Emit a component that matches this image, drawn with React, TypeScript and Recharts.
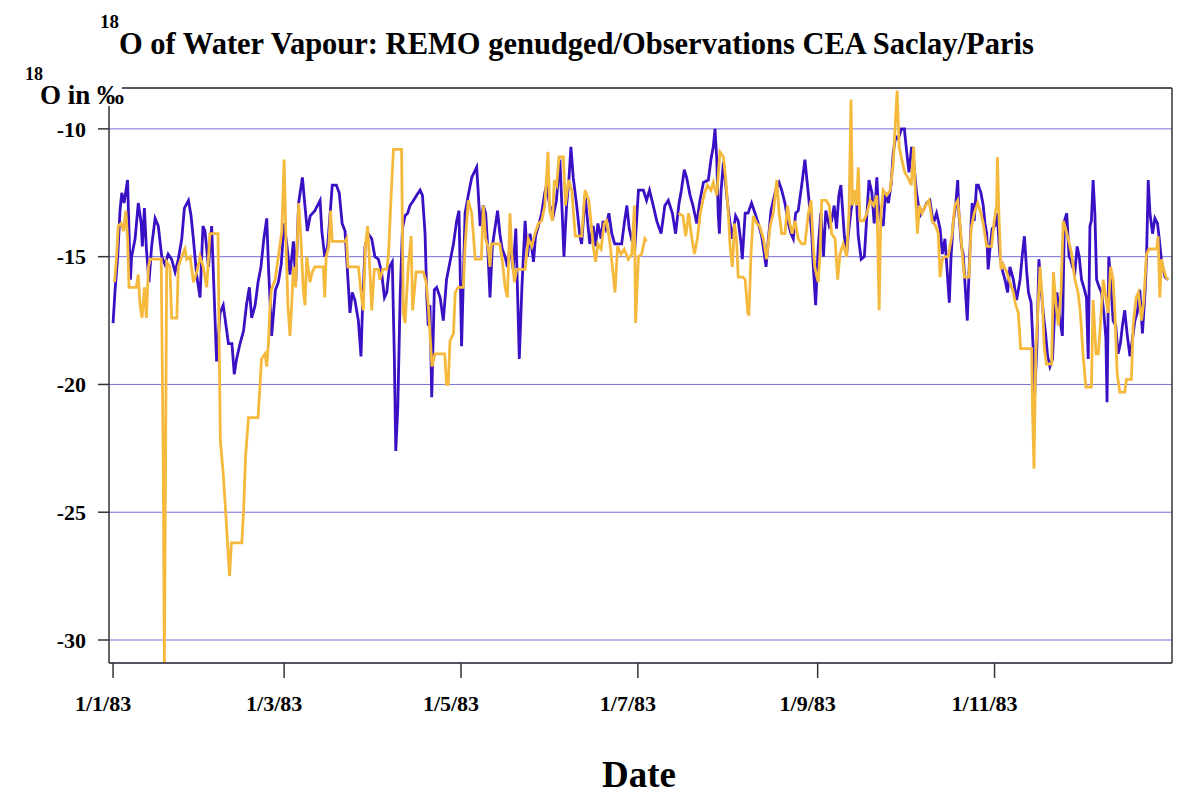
import { CartesianGrid, Line, LineChart, XAxis, YAxis } from "recharts";

// day of year (0 = 1 Jan 1983), delta 18O in permil
const REMO: [number, number][] = [
  [0, -17.6], [0.7, -16.3], [1.6, -15], [2.4, -13.2], [3, -12.5], [3.8, -12.9], [5, -12], [5.5, -14],
  [6, -15.9], [6.4, -15], [7.6, -14.3], [8.7, -12.9], [9.7, -13.7], [10.1, -14.6], [10.8, -13.1],
  [11.5, -14.7], [12.4, -16], [13.3, -14.6], [14.5, -13.5], [15.6, -13.8], [16.8, -15], [17.9, -15.3],
  [19, -14.9], [20.2, -15.1], [21.4, -15.6], [22.5, -15.1], [23.7, -14.3], [24.6, -13.1], [26, -12.8],
  [26.9, -13.4], [27.7, -14.3], [28.8, -15.7], [30, -16.6], [31, -13.8], [31.7, -14], [32.9, -15.4],
  [34, -13.8], [35, -16.9], [35.7, -19.1], [36.9, -17.2], [38, -16.9], [39.8, -18.4],
  [41, -18.4], [41.8, -19.6], [42.6, -19], [43.8, -18.4], [45, -17.9], [46, -16.9], [47, -16.2],
  [47.8, -17.4], [49, -16.9], [50, -16], [51, -15.4], [52, -14.3], [53, -13.5], [53.6, -15.4],
  [54.7, -18.1], [56, -16.3], [57, -16], [58, -15.3], [59, -13.7], [60, -14.6], [61, -15.7],
  [62.2, -14.4], [63, -16], [64, -12.9], [65.3, -11.9], [66, -12.8], [67, -14], [68, -13.4],
  [69.6, -13.2], [71.4, -12.8], [72, -14], [73, -15], [74, -14.6], [75.6, -12.2], [77, -12.2],
  [78, -12.5], [79, -13.7], [80, -14],
  [81.7, -17.2], [82.5, -16.4], [83.4, -16.7], [84.6, -17.5], [85.5, -18.9], [86, -17.1], [86.9, -14.6],
  [88, -14.1], [89.2, -14.3], [90.3, -15], [91.5, -15.1], [92.6, -15.6], [93.6, -16.6], [94.4, -16.4],
  [95.3, -15.4], [96.3, -15.2], [97, -18.9], [97.5, -22.6], [98.2, -20.9], [99, -16.6], [99.8, -13.9],
  [100.7, -13.4], [101.6, -13.3], [102.4, -13], [103.6, -12.8], [104.7, -12.6], [105.9, -12.4],
  [106.7, -12.6], [107.6, -14.1], [108.2, -16.6], [108.7, -17.7], [109.3, -16.9], [109.9, -20.5],
  [110.8, -16.3], [111.6, -16.2], [112.8, -16.6], [113.9, -17.5], [115, -15.9], [116.2, -15.2],
  [117.4, -14.5], [118.5, -13.6], [119.3, -13.2], [120.2, -18.5], [121.4, -13.3], [122.5, -12.6],
  [123.7, -11.9], [125.4, -11.5], [126, -12.6], [126.6, -13.8], [127.7, -13], [128.5, -13.3],
  [129.2, -14.6], [130, -16.6], [130.8, -14.6], [131.7, -13.9], [132.6, -13.2], [133.4, -14.1],
  [134.2, -14.7], [135.2, -15], [136, -15.4], [136.9, -14.6], [138, -15.5], [138.9, -13.9],
  [139.5, -16.4], [140.1, -19], [141, -16.2], [142.1, -13.6], [142.9, -15], [143.8, -14.1],
  [145, -15.2], [145.7, -14.2], [146.7, -13.8], [147.8, -13.3], [148.9, -12.5], [149.5, -12.2],
  [150.6, -13], [151.8, -13.4], [152.9, -12.8], [154.1, -11.2], [154.9, -13.3], [155.5, -15],
  [156.4, -13], [157.2, -12], [157.9, -10.7], [158.7, -11.9], [159.9, -13], [161, -14.2],
  [161.6, -14.5], [162.8, -12.6],
  [164.4, -14.5], [165.6, -13.8], [166.4, -14.6], [167.2, -13.7], [168.3, -14.3], [169, -13.6],
  [169.9, -13.9], [171, -13.3], [172, -14.1], [173, -14.5], [175.4, -14.5], [176.3, -13.7],
  [177.2, -13], [178, -13.9], [179, -14.4], [180, -14.6], [181.2, -12.4], [182.9, -12.4], [184, -12.8],
  [185, -12.4], [186.3, -13], [187.5, -13.6], [189, -14.1], [190.3, -13], [191.5, -12.8],
  [192.9, -13.3], [194, -14.1], [195.2, -12.9], [196, -12.4], [197, -11.6], [197.8, -11.9],
  [199, -12.6], [200, -13], [201.3, -13.7], [202.4, -12.8], [203.6, -12.1],
  [205.3, -12], [206.2, -11.2], [207, -10.7], [207.6, -10], [208.2, -11.2], [208.7, -13.3],
  [209.1, -14.1], [209.7, -12.4], [210.5, -11.3], [211.3, -12.2], [212, -13], [212.8, -13.7],
  [213.6, -14.3], [214.7, -13.4], [215.6, -13.6], [216.6, -14.5], [217, -15.1], [218, -13.3],
  [219, -13.3], [220.2, -12.9], [221.4, -13.3], [222.5, -13.7], [223.7, -14.2], [224.6, -14.9],
  [225.2, -15.4], [226, -14.3], [226.9, -13.2], [227.7, -12.8], [228.5, -12.4], [229.7, -12.1],
  [230.6, -12.4], [231.7, -12.9], [232.9, -13.7], [233.8, -14.1], [234.6, -14.3], [235.4, -13.3],
  [236.3, -13.2], [237.5, -12.2], [238.6, -11.2], [239.3, -12], [240, -12.8], [241, -14.2],
  [241.5, -15.4], [242.3, -16.9], [243.2, -14.6], [244.1, -13.3], [245, -15], [245.8, -13.2],
  [247, -13.8],
  [247.8, -13.6], [248.7, -13], [249.5, -13.9], [250.3, -12.6], [251, -12.2], [251.5, -13],
  [252.2, -14.2], [253, -14.9], [253.6, -14.1], [254.5, -13.2], [255.7, -12.4], [256.4, -12.8],
  [257, -14.2], [258, -15.1], [259.1, -15], [260, -13.3], [260.7, -12], [261.7, -12.5], [262.5, -13.7],
  [263.4, -11.9], [263.9, -13], [264.8, -13.6], [265.6, -13.8], [266.4, -12.5], [267.4, -12.9],
  [268.3, -12.2], [269.1, -10.9], [269.9, -10.3], [270.8, -10.4], [271.9, -10], [272.9, -10],
  [273.7, -10.9], [274.5, -11.7], [275.4, -10.7], [276.3, -11.5], [277.1, -12.5], [278.3, -13.4],
  [279.4, -13.2], [280.6, -12.9], [281.7, -12.8], [282.9, -13.7], [284, -13.3], [285.2, -13.9],
  [286, -14.9], [286.9, -14.3], [288.4, -16.8],
  [289, -15], [289.8, -13.6], [290.6, -13], [291.3, -12], [291.7, -13.3], [292.6, -14.6],
  [293.2, -14.9], [294, -16.4], [294.6, -17.5], [295.2, -15.6], [295.9, -13.7], [296.3, -12.9],
  [297, -13.6], [297.8, -12.2], [298.4, -12.2], [299.3, -12.5], [300.1, -13], [300.7, -13.7],
  [301.3, -14.1], [301.8, -15.5], [302.5, -14.6], [303.2, -13.9], [304.1, -13.8], [304.9, -13.3],
  [305.8, -14.9], [306.6, -15.5], [307.6, -15.9], [308.5, -16.4], [309.3, -15.4], [310.5, -15.9],
  [311.6, -16.7], [312.8, -15.9], [313.6, -14.9], [314.3, -14.2], [315.1, -15.6], [315.7, -16.4],
  [316.6, -16.8], [317.4, -18.8], [317.8, -20.5], [318.6, -18.5], [319.3, -15.1], [320, -16.2],
  [320.8, -17.2], [321.6, -18], [322.3, -18.9], [323.1, -19.3], [324, -19], [324.7, -17.2],
  [325.5, -16.4], [326.6, -17.5], [327.4, -18.1], [328.1, -13.6], [328.9, -13.3], [329.7, -15],
  [330.2, -15.1], [330.9, -15.4], [331.7, -15.6], [332.5, -14.6], [333.2, -15], [334, -15.9],
  [334.8, -16.2], [335.7, -16.6], [336.3, -19], [336.9, -13.8], [337.4, -13.6], [338, -12],
  [338.6, -13.3], [339.2, -15.9], [340.1, -16.2], [340.9, -16.4], [341.7, -17.2], [342.4, -18.2],
  [342.8, -20.7], [343.4, -15], [344, -15.9], [344.9, -17.5], [345.8, -17.7], [346.6, -18.8],
  [347.4, -18.4], [348.1, -17.7], [348.9, -17.1], [349.7, -18], [350.7, -18.9], [351.6, -18.2],
  [352.4, -17.5], [353.2, -17.2], [354.1, -16.3], [355, -18], [355.9, -16.4], [356.4, -15.1],
  [357, -12], [357.6, -13.3], [358.5, -14.1], [359.3, -13.5], [360.2, -13.7], [360.8, -14.3],
  [361.6, -15.2], [362.8, -15.8], [363.9, -15.9],
];

const OBS: [number, number | null][] = [
  [0.5, -16], [1.2, -15], [1.8, -13.8], [2.8, -13.7], [3.6, -14], [4.4, -13.2], [5, -14.3],
  [5.5, -16.2], [8, -16.2], [8.7, -15.7], [9.3, -16.9], [10, -17.4], [10.8, -16.2], [11.5, -17.4],
  [12.2, -15.4], [12.8, -15.1], [16.6, -15.1], [17.3, -23], [17.7, -31], [18.5, -15.2], [19.6, -15.4],
  [20.2, -17.4], [22, -17.4], [22.5, -15.4], [23.7, -15], [24.8, -14.7], [25.4, -15.1], [26.6, -15],
  [27.7, -16], [28.9, -15.6], [30, -15], [31.1, -15.4], [32.3, -16.2], [33.4, -14.1], [36.2, -14.1],
  [36.6, -18.4], [37, -22.2], [38, -23.5], [38.9, -25.1], [40, -27.2],
  [40.2, -27.5], [40.8, -26.2], [44.4, -26.2], [45, -25], [45.7, -22.8], [46.7, -21.3], [50, -21.3],
  [50.7, -20], [51.2, -19], [52.4, -18.8], [53, -19.3], [53.6, -18.4], [54, -17.2], [54.6, -16.3],
  [55.9, -15.9], [57, -15], [58.2, -14], [59, -11.2], [59.7, -14.7], [60.3, -16.9], [61, -18.1],
  [61.6, -16.9], [62.2, -15.4], [63, -16.2], [64, -12.9], [64.8, -14.3], [65.6, -16.3], [66.2, -16.9],
  [66.8, -15], [67.9, -16], [68.7, -15.6], [69.6, -15.4], [72.5, -15.4], [73, -16.6], [73.5, -15],
  [74.4, -14.6], [75, -13.2], [75.6, -14.4], [80, -14.4],
  [80.5, -14.3], [81, -15.4], [84.6, -15.4], [85.7, -16.6], [86.3, -17.1], [87, -14.6], [87.8, -13.8],
  [88.6, -15.6], [89.2, -17.1], [90.1, -15.5], [91.5, -15.5], [92, -15.9], [93, -15.5], [94.4, -15.5],
  [95, -14.9], [95.9, -12.6], [96.7, -10.8], [99.5, -10.8], [100.1, -17.2], [100.7, -17.6],
  [101.8, -15.4], [102.8, -14.2], [103.3, -17.1], [104.5, -15.6], [107, -15.6], [108, -16],
  [108.7, -16.9], [110, -19.3], [111, -18.8], [114.4, -18.8], [115, -20], [115.6, -20], [116.2, -18.3],
  [117.4, -18], [118, -16.4], [119, -16.2], [120.8, -16.2], [121.4, -14.6], [122.5, -12.8],
  [123.7, -13.3], [124.9, -15.1], [127, -15.1], [127.7, -13], [128.5, -14.3], [129.3, -14.6],
  [130, -15.4], [130.5, -14.5], [133.4, -14.5], [134.2, -15.1], [135.2, -16.2], [136, -16.6],
  [136.9, -13.3], [137.5, -14.9], [138.4, -16], [139.2, -15.5], [142.1, -15.5], [143.2, -14.3],
  [144.4, -14.6], [145.5, -14.1], [146.7, -13.7], [147.8, -13.6], [148.9, -13], [150, -10.9],
  [150.6, -13.2], [151.5, -13.6], [152.2, -12], [153, -12.2], [153.8, -11.1], [155.3, -11.1],
  [156, -13], [157.1, -12], [158.2, -12.4], [159.4, -14.2], [161.6, -14.2], [162.8, -12.4],
  [164.1, -12.8],
  [164.8, -13.6], [165.6, -14.6], [166.4, -15.2], [167.2, -14.5], [168.3, -14.7], [169.4, -13.7],
  [170.2, -13.6], [171.4, -14.5], [172.2, -15.4], [173.1, -16.4], [174, -14.6], [175.2, -14.9],
  [176.3, -14.7], [177.7, -15.1], [178.9, -14.9], [179.8, -13], [180.2, -17.6], [181.2, -15],
  [182.3, -14.9], [183.4, -14.3], [184, -14.4], [189, null],
  [195, -13.3], [196.5, -13.4], [197.5, -14.2], [198.5, -13.3], [199.5, -14.2], [200.5, -14.9],
  [201.5, -14.3], [202.5, -13.3], [204, -12.5], [205, -12.2],
  [206.2, -12.4], [207, -12.1], [208.2, -12.6], [209.3, -10.9], [210.5, -11.1], [211.3, -12],
  [212.2, -13.3], [212.8, -14.6], [213.6, -15.4], [214.3, -13.7], [215, -14.3], [215.6, -15.8],
  [217.3, -15.8], [218, -15.9], [218.9, -17.2], [219.3, -17.3], [220, -14.9], [220.8, -13.4],
  [222, -13.7], [223, -13.8], [224.3, -14.3], [225.4, -15.1], [226.6, -13.8], [227.7, -13.3],
  [228.9, -12], [229.7, -13.3], [230.6, -14.1], [231.7, -14.1], [232.6, -13], [233.4, -13.7],
  [234.2, -14.1], [235.2, -13.6], [236.3, -14.3], [237.5, -14.5], [238.6, -14.5], [239.8, -13.3],
  [240.7, -12.8], [241.5, -14.6], [242, -15.4], [243.2, -16], [243.8, -14.9], [244.4, -12.8],
  [246, -12.8], [247, -13],
  [247.8, -14.1], [249, -14.3], [249.9, -15.9], [250.7, -14.9], [251.8, -14.5], [253, -15],
  [253.8, -13.3], [254.5, -8.85], [255, -13], [255.7, -12.4], [256.4, -13], [257, -11.5],
  [257.6, -13.6], [258.8, -13.6], [260, -13.3], [261.1, -12.8], [262.3, -13], [263.4, -12.6],
  [264.2, -17.1], [264.8, -13.3], [265.6, -12.4], [266.8, -12.6], [268, -12.4], [269.1, -11.3],
  [269.9, -9.5], [270.4, -8.5], [271.1, -10.7], [272, -11.2], [273, -11.7], [274.1, -11.9],
  [275.3, -12.2], [276.1, -10.7], [276.7, -12.5], [277.4, -14.1], [278.1, -13], [279, -13.3],
  [280.2, -13], [281.4, -12.8], [282.5, -13.6], [283.7, -13.8], [284.6, -14.1], [285.2, -15.8],
  [286, -15.1], [286.9, -15], [288, -15],
  [289.4, -14.1], [290.3, -13], [291.3, -12.8], [292, -13.6], [292.9, -14.9], [293.6, -15.8],
  [295.2, -15.8], [295.9, -13.9], [297, -13.3], [298.2, -12.9], [299.3, -13.3], [300.1, -13.7],
  [301.3, -14.6], [303, -14.6], [303.9, -13.6], [304.7, -13], [305, -11.1], [305.5, -13.3],
  [306.2, -15.5], [307, -15.3], [308.2, -15.6], [309.3, -16], [310.5, -16.4], [311.3, -16.9],
  [312.2, -17.2], [313, -18.6], [316.8, -18.6], [317.1, -21], [317.6, -23.3], [318.2, -18.9],
  [319.1, -16.7], [319.7, -15.4], [320.5, -16.7], [321.1, -18.5], [321.9, -19.2], [323.7, -19.2],
  [324.3, -15.6], [325.2, -16.9], [326, -17.7], [326.9, -16.4], [327.7, -13.6], [328.5, -13.9],
  [329.4, -14.3],
  [330.6, -14.9], [331.7, -15.9], [332.8, -16.4], [333.6, -17.2], [334.5, -18.8], [335.5, -20.1],
  [337.4, -20.1], [338, -16.7], [339, -18.8], [339.8, -18.8], [340.6, -17.5], [341.5, -15.9],
  [342.4, -16.6], [343.2, -17.2], [344, -15.4], [344.9, -15.9], [345.5, -17.2], [346.3, -19.6],
  [347.2, -20.3], [348.9, -20.3], [349.5, -19.8], [351.2, -19.8], [351.8, -17.7], [352.8, -16.6],
  [353.6, -16.4], [354.7, -17.5], [355.5, -16.7], [356.4, -14.9], [357.3, -14.7], [359.9, -14.7],
  [360.4, -14.2], [361, -16.6], [361.6, -15.1], [362.1, -15.4], [363.1, -15.8], [363.9, -15.9],
];

const DATE_TICKS = [0, 59, 120, 181, 243, 304];
const DATE_LABELS = ["1/1/83", "1/3/83", "1/5/83", "1/7/83", "1/9/83", "1/11/83"];
const VALUE_TICKS = [-30, -25, -20, -15, -10];

const FONT = '"Liberation Serif", "Times New Roman", serif';
const AXIS = "#333333";

export default function App() {
  const remo = REMO.map(([day, v]) => ({ day, v }));
  const obs = OBS.map(([day, v]) => ({ day, v }));
  const xDomain: [number, number] = [-1.4, 365.2];
  const yDomain: [number, number] = [-30.9, -8.4];
  const tickFont = { fontFamily: FONT, fontSize: 22, fontWeight: 700, fill: "#000" };

  return (
    <div
      style={{
        position: "absolute",
        left: 0,
        top: 0,
        width: 1177,
        height: 796,
        background: "#fff",
      }}
    >
      <LineChart
        width={1177}
        height={796}
        margin={{ top: 67, right: 0, bottom: 73, left: 49 }}
      >
        <CartesianGrid vertical={false} stroke="#7470d8" strokeWidth={1} />
        <XAxis
          type="number"
          dataKey="day"
          domain={xDomain}
          allowDataOverflow
          ticks={DATE_TICKS}
          tickFormatter={(d: number) => DATE_LABELS[DATE_TICKS.indexOf(d)] ?? ""}
          interval={0}
          height={60}
          tickSize={15}
          tickMargin={17}
          tick={{ ...tickFont, dx: -10 }}
          stroke={AXIS}
          strokeWidth={1.5}
        />
        <XAxis
          xAxisId="top"
          orientation="top"
          type="number"
          domain={xDomain}
          allowDataOverflow
          ticks={DATE_TICKS}
          interval={0}
          height={21}
          tickSize={20}
          tick={false}
          stroke={AXIS}
          strokeWidth={1.5}
        />
        <YAxis
          type="number"
          domain={yDomain}
          allowDataOverflow
          ticks={VALUE_TICKS}
          interval={0}
          width={60}
          tickSize={11}
          tickMargin={12}
          tick={tickFont}
          stroke={AXIS}
          strokeWidth={1.5}
        />
        <YAxis
          yAxisId="right"
          orientation="right"
          type="number"
          domain={yDomain}
          allowDataOverflow
          ticks={VALUE_TICKS}
          interval={0}
          width={5}
          tickSize={5}
          tick={false}
          stroke={AXIS}
          strokeWidth={1.5}
        />
        <Line
          data={remo}
          dataKey="v"
          type="linear"
          stroke="#3a10c4"
          strokeWidth={2.8}
          dot={false}
          isAnimationActive={false}
        />
        <Line
          data={obs}
          dataKey="v"
          type="linear"
          stroke="#f5b93e"
          strokeWidth={2.8}
          dot={false}
          isAnimationActive={false}
        />
      </LineChart>
      <svg
        width={1177}
        height={796}
        style={{ position: "absolute", left: 0, top: 0, pointerEvents: "none" }}
        fontFamily={FONT}
        fontWeight={700}
      >
        <text x={100} y={28} fontSize={19}>18</text>
        <text x={119} y={54} fontSize={30.5}>
          O of Water Vapour: REMO genudged/Observations CEA Saclay/Paris
        </text>
        <text x={25} y={80} fontSize={18}>18</text>
        <rect x={38} y={82} width={84} height={24} fill="#fff" />
        <text x={40} y={104} fontSize={27}>O in ‰</text>
        <text x={639} y={787} fontSize={37} textAnchor="middle">Date</text>
      </svg>
    </div>
  );
}
